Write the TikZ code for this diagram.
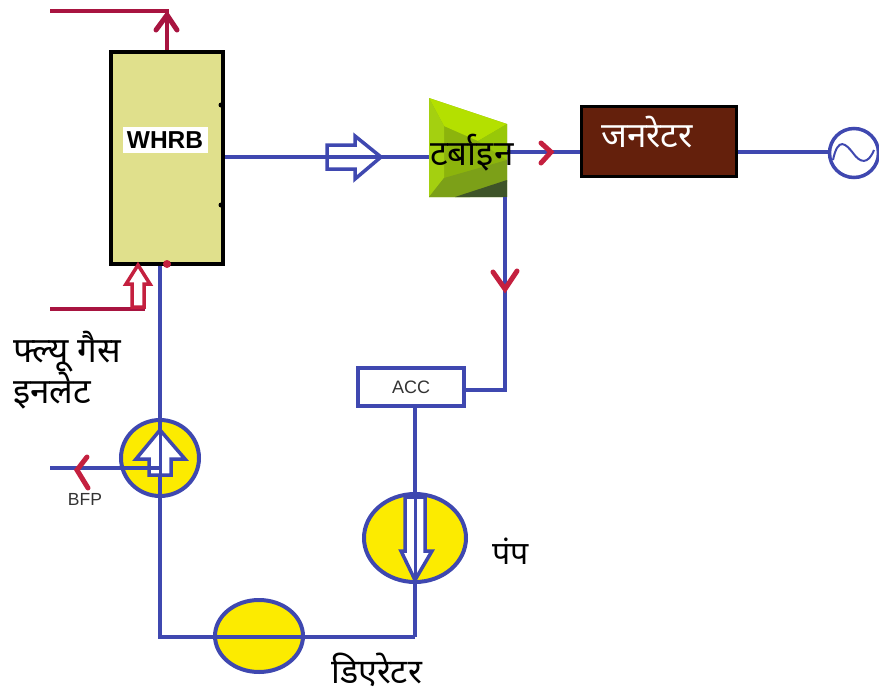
\documentclass[tikz,border=0pt]{standalone}
\usepackage{fontspec}
\setmainfont{Liberation Sans}
\newfontfamily\dev[Script=Devanagari]{Noto Sans}
\usetikzlibrary{shapes.geometric}
\definecolor{pipe}{HTML}{3F48B0}
\definecolor{gas}{HTML}{A81440}
\definecolor{chev}{HTML}{C4203F}
\definecolor{sand}{HTML}{E0E08C}
\definecolor{gen}{HTML}{64200C}
\definecolor{yel}{HTML}{FCEB00}
\definecolor{tbase}{HTML}{8CB40C}
\definecolor{ttop}{HTML}{B4E000}
\definecolor{tmid}{HTML}{98C808}
\definecolor{tleft}{HTML}{A4D010}
\definecolor{tlow}{HTML}{7CA018}
\definecolor{tdark}{HTML}{3E5428}
\tikzset{
  pipeline/.style={draw=pipe,line width=4pt},
  gasline/.style={draw=gas,line width=4.5pt},
  chevron/.style={draw=chev,line width=5pt,line cap=round,line join=miter},
  hollow/.style={draw=pipe,line width=3.5pt,fill=white,line join=miter},
  vessel/.style={ellipse,draw=pipe,line width=4pt,fill=yel,inner sep=0pt},
  devlabel/.style={font=\dev\fontsize{35}{38}\selectfont,inner sep=0pt,anchor=west,text=black},
  smalllabel/.style={font=\fontsize{17.5}{19}\selectfont,text=black!80,inner sep=0pt}
}
\begin{document}
\begin{tikzpicture}[x=1pt,y=-1pt]
\useasboundingbox (0,0) rectangle (879,694);
% coordinates
\coordinate (gasTL) at (50,11);
\coordinate (gasTC) at (167,11);
\coordinate (gasBL) at (50,309);
\coordinate (gasBR) at (145,309);
\coordinate (tIn) at (429,157);
\coordinate (tOut) at (507,152);
\coordinate (tDown) at (505,197);
\coordinate (tCorner) at (505,390);
\coordinate (botL) at (160,637);
\coordinate (botR) at (415,637);
\coordinate (bfpEnd) at (50,468);
% boiler
\node[draw=black,line width=4.5pt,fill=sand,minimum width=112pt,minimum height=212pt,inner sep=0pt] (whrb) at (167,158) {};
\node[fill=white,inner sep=0pt,minimum width=85pt,minimum height=26pt,font=\bfseries\fontsize{24.5}{26}\selectfont] (whrblabel) at (165,140) {WHRB};
\fill[black] (221,105) circle (2.5pt) (221,205) circle (2.5pt);
% gas lines
\draw[gasline] (gasTL) -- (gasTC) -- (whrb.north -| gasTC);
\draw[chevron,draw=gas] (156,30) -- (167,15) -- (177,30);
\draw[gasline] (gasBL) -- (gasBR);
\draw[draw=chev,line width=3.5pt,fill=white,line join=miter]
  (132,307) -- (132,284) -- (126,284) -- (138,265) -- (150,284) -- (144,284) -- (144,307) -- cycle;
% turbine
\fill[tbase] (429,98) -- (507,124) -- (507,197) -- (429,197) -- cycle;
\fill[ttop] (429,98) -- (507,124) -- (478,141) -- (444,126) -- cycle;
\fill[tleft] (429,98) -- (444,126) -- (444,178) -- (429,197) -- cycle;
\fill[tmid] (507,124) -- (507,160) -- (478,141) -- cycle;
\fill[tlow] (429,197) -- (444,178) -- (507,160) -- (507,182) -- (470,197) -- cycle;
\fill[tdark] (455,197) -- (507,180) -- (507,197) -- cycle;
% generator
\node[draw=black,line width=3pt,fill=gen,minimum width=155pt,minimum height=70pt,inner sep=0pt] (generator) at (658.5,141) {};
% grid symbol
\node[circle,draw=pipe,line width=3.5pt,fill=white,minimum size=49pt,inner sep=0pt] (grid) at (854,153) {};
\draw[pipe,line width=2pt] (833,160) .. controls (838,136) and (846,144) .. (853,153) .. controls (860,163) and (868,165) .. (874,150);
% vessels
\node[vessel,minimum width=78pt,minimum height=76pt] (bfp) at (160,458) {};
\node[vessel,minimum width=102pt,minimum height=88pt] (pump) at (415,538) {};
\node[vessel,minimum width=88pt,minimum height=72pt] (dea) at (259,636) {};
% ACC
\node[draw=pipe,line width=3.5pt,fill=white,minimum width=106pt,minimum height=38pt,inner sep=0pt,font=\fontsize{18}{20}\selectfont,text=black!80] (acc) at (411,387) {ACC};
% pipes
\draw[pipeline] (whrb.east |- tIn) -- (tIn);
\draw[pipeline] (tOut) -- (generator.west |- tOut);
\draw[pipeline] (generator.east |- tOut) -- (grid.west |- tOut);
\draw[pipeline] (tDown) -- (tCorner) -- (acc.east |- tCorner);
\draw[pipeline] (acc.south -| botR) -- (botR);
\draw[pipeline] (botR) -- (botL) -- (whrb.south -| botL);
% hollow arrows
\draw[hollow] (327,145) -- (355,145) -- (355,136) -- (381,157) -- (355,179) -- (355,169) -- (327,169) -- cycle;
\draw[pipeline] (327,157) -- (381,157);
\draw[hollow] (149,475) -- (149,459) -- (136,459) -- (160,430) -- (185,459) -- (171,459) -- (171,475) -- cycle;
\draw[pipeline,line width=3pt] (160,430) -- (160,475);
\draw[pipeline] (bfpEnd) -- (bfp.center |- bfpEnd);
\draw[hollow] (405,497) -- (405,551) -- (401,551) -- (415,580) -- (432,551) -- (425,551) -- (425,497) -- cycle;
\draw[pipeline,line width=3pt] (415,497) -- (415,580);
% chevrons and dots
\draw[chevron] (541,143) -- (551,152) -- (541,163);
\draw[chevron] (493,272) -- (505,289) -- (517,271);
\draw[chevron] (87,457) -- (77,470) -- (88,488);
\fill[chev] (167,264) circle (4pt);
% labels
\node[devlabel,text=white] (genlabel) at (601,132) {जनरेटर};
\node[devlabel] (turblabel) at (430,153) {टर्बाइन};
\node[devlabel] (flue1) at (13,352) {फ्ल्यू गैस};
\node[devlabel] (flue2) at (13,391) {इनलेट};
\node[devlabel,font=\dev\fontsize{32}{34}\selectfont] (pumplabel) at (492,551) {पंप};
\node[devlabel,font=\dev\fontsize{34}{36}\selectfont] (dealabel) at (331,670) {डिएरेटर};
\node[smalllabel] (bfplabel) at (85,499) {BFP};
\end{tikzpicture}
\end{document}
